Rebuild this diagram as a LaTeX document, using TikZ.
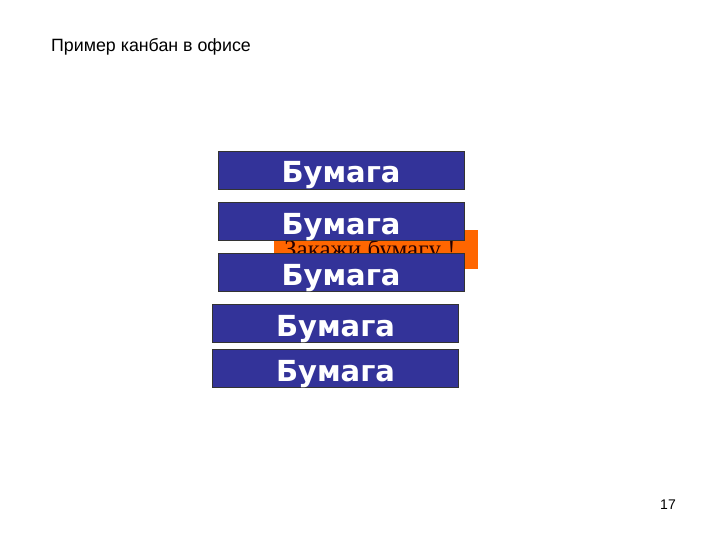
\documentclass[tikz,border=0pt]{standalone}
\usepackage{fontspec}
\setmainfont{Liberation Serif}
\newfontfamily\titlefont{Liberation Sans}
\newfontfamily\paperfont{DejaVu Sans}
\definecolor{paperblue}{HTML}{333399}
\definecolor{signorange}{HTML}{FF6600}
\begin{document}
\begin{tikzpicture}[x=1pt, y=-1pt,
        paper/.style={draw=black!80, fill=paperblue, text=white, inner sep=0pt,
            minimum width=246pt, minimum height=38pt, text height=26pt, text depth=0pt,
            font=\paperfont\bfseries\fontsize{29}{30}\selectfont}]
                \useasboundingbox (0, 0) rectangle (720, 540);
                \node[anchor=base west, font=\titlefont\fontsize{17.8}{20}\selectfont, inner sep=0pt] (title) at (51, 52) {Пример канбан в офисе};
                \node[fill=signorange, anchor=north west, minimum width=204pt, minimum height=39pt, inner sep=0pt] (sign) at (274, 230) {};
                \node[anchor=west, text=black!85!red, font=\fontsize{25}{26}\selectfont, inner sep=0pt] (signtext) at (284, 251) {Закажи бумагу !};
                \node[paper] (paper1) at (341, 170) {Бумага};
                \node[paper] (paper2) at (341, 221) {Бумага};
                \node[paper] (paper3) at (341, 272.5) {Бумага};
                \node[paper] (paper4) at (335.5, 323) {Бумага};
                \node[paper] (paper5) at (335.5, 368.5) {Бумага};
                \node[font=\titlefont\fontsize{14}{16}\selectfont] (pagenum) at (668, 505) {17};
            \end{tikzpicture}
\end{document}
